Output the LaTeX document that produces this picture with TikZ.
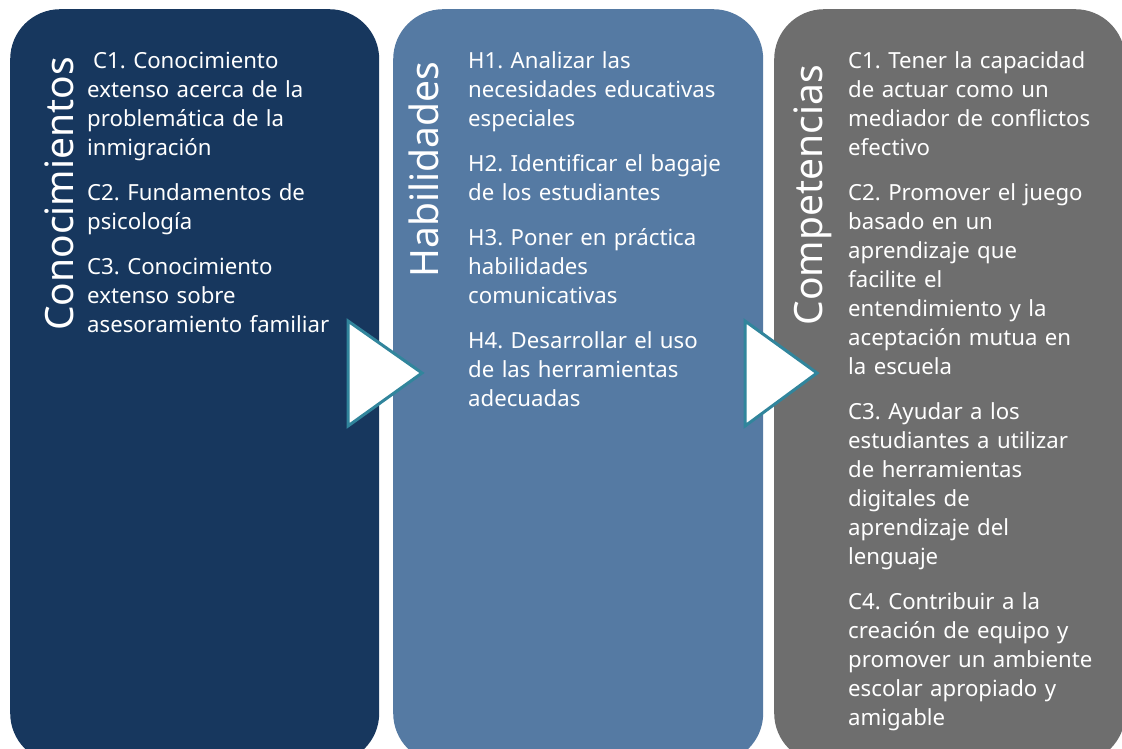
\documentclass[tikz,border=0pt]{standalone}
\usepackage{fontspec}
\setmainfont{Noto Sans}
\frenchspacing
\definecolor{navy}{HTML}{17375E}
\definecolor{steel}{HTML}{557AA3}
\definecolor{slate}{HTML}{6E6E6E}
\definecolor{teal}{HTML}{31859C}
\begin{document}
\begin{tikzpicture}[x=1pt,y=-1pt,
  panel/.style={rectangle, rounded corners=50pt, inner sep=0pt, anchor=north west, minimum height=754pt},
  body/.style={text=white, inner sep=0pt, anchor=base west, text width=330pt, align=left,
    font=\fontsize{22.2pt}{29pt}\selectfont\frenchspacing},
  title/.style={text=white, inner sep=0pt, anchor=base east, rotate=90,
    font=\fontsize{39pt}{39pt}\selectfont},
  arrowtri/.style={fill=white, draw=teal, line width=3pt, line join=miter}
]
\useasboundingbox (0,0) rectangle (1122,749);
\clip (0,0) rectangle (1122,749);
\fill[white] (0,0) rectangle (1122,749);

\node[panel, fill=navy, minimum width=369pt] (b1) at (10,9) {};
\node[panel, fill=steel, minimum width=370pt] (b2) at (393,9) {};
\node[panel, fill=slate, minimum width=351pt] (b3) at (774,9) {};

\node[title] (t1) at (73,57) {Conocimientos};
\node[title] (t2) at (438,62) {Habilidades};
\node[title] (t3) at (822,65) {Competencias};

\node[body] (c1) at (87,69) {\hspace*{6pt}C1. Conocimiento\\
extenso acerca de la\\
problemática de la\\
inmigración\\[16pt]
C2. Fundamentos de\\
psicología\\[16pt]
C3. Conocimiento\\
extenso sobre\\
asesoramiento familiar};

\node[body] (h1) at (468,69) {H1. Analizar las\\
necesidades educativas\\
especiales\\[16pt]
H2. Identificar el bagaje\\
de los estudiantes\\[16pt]
H3. Poner en práctica\\
habilidades\\
comunicativas\\[16pt]
H4. Desarrollar el uso\\
de las herramientas\\
adecuadas};

\node[body] (k1) at (848,69) {C1. Tener la capacidad\\
de actuar como un\\
mediador de conflictos\\
efectivo\\[16pt]
C2. Promover el juego\\
basado en un\\
aprendizaje que\\
facilite el\\
entendimiento y la\\
aceptación mutua en\\
la escuela\\[16pt]
C3. Ayudar a los\\
estudiantes a utilizar\\
de herramientas\\
digitales de\\
aprendizaje del\\
lenguaje\\[16pt]
C4. Contribuir a la\\
creación de equipo y\\
promover un ambiente\\
escolar apropiado y\\
amigable};

\coordinate (a1a) at (348,321);
\coordinate (a1b) at (348,426);
\coordinate (a1c) at (422,373);
\coordinate (a2a) at (745,321);
\coordinate (a2b) at (745,426);
\coordinate (a2c) at (817,373);
\draw[arrowtri] (a1a) -- (a1c) -- (a1b) -- cycle;
\draw[arrowtri] (a2a) -- (a2c) -- (a2b) -- cycle;
\end{tikzpicture}
\end{document}
